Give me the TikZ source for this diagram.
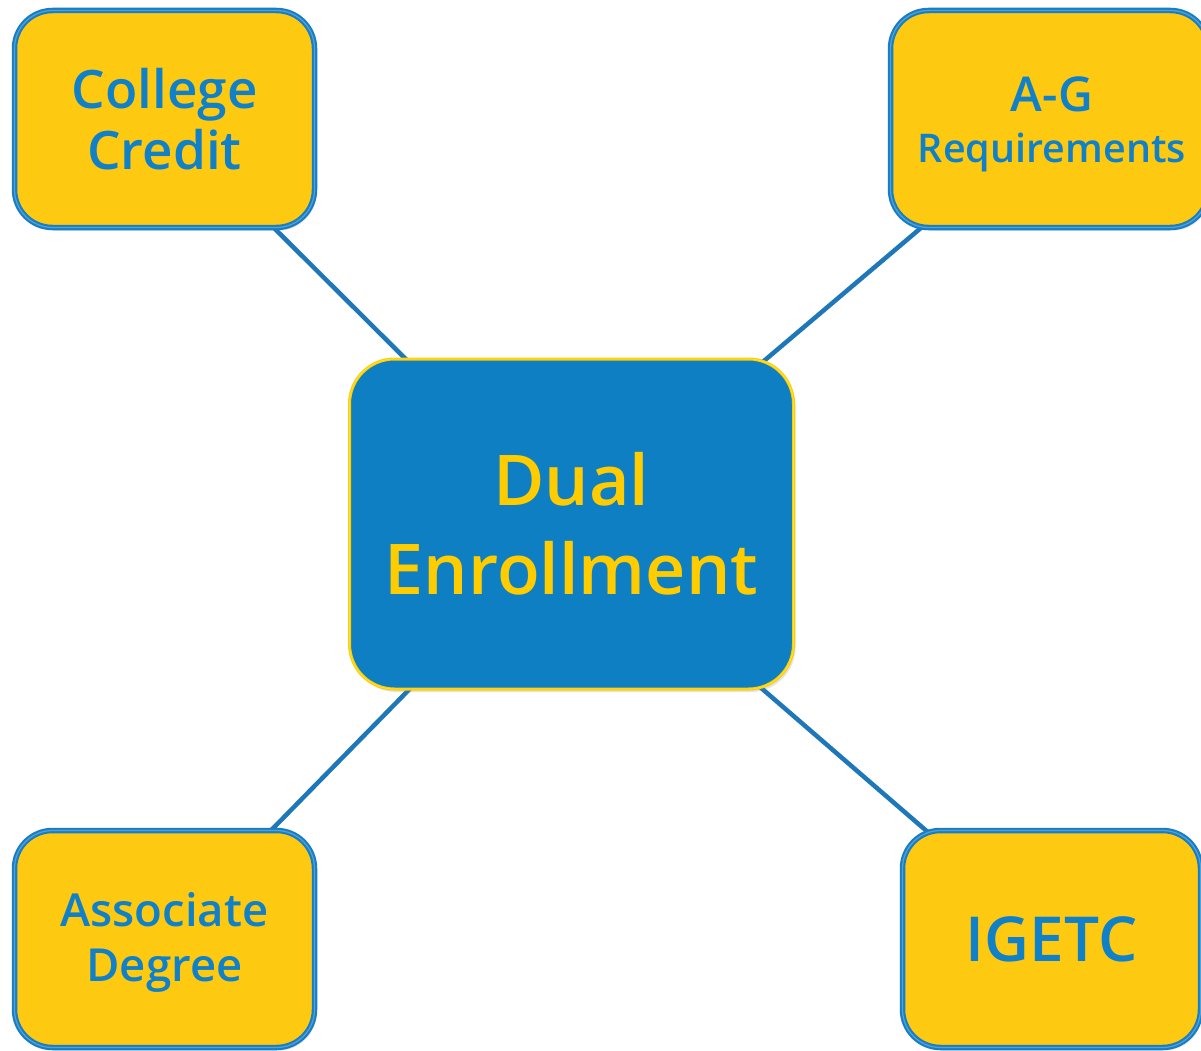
\documentclass[tikz,border=0pt]{standalone}
\usepackage{fontspec}
\IfFontExistsTF{Open Sans SemiBold}
  {\setmainfont{Open Sans}[BoldFont={Open Sans SemiBold}]}
  {\IfFontExistsTF{Open Sans Semibold}
    {\setmainfont{Open Sans}[BoldFont={Open Sans Semibold}]}
    {\setmainfont{Open Sans}}}
\usetikzlibrary{backgrounds,shadows}
\definecolor{ybox}{HTML}{FDC911}
\definecolor{bblue}{HTML}{1A7DC4}
\definecolor{tblue}{HTML}{1080C8}
\definecolor{cfill}{HTML}{0F7FC4}
\definecolor{ytext}{HTML}{FFCC00}
\definecolor{ledge}{HTML}{1E77B8}
\definecolor{gloss}{HTML}{8FD3F5}
\tikzset{
  leaf/.style={draw=bblue, line width=5.5pt, fill=ybox, rounded corners=38pt,
    text=tblue, align=center, inner sep=0pt,
    drop shadow={opacity=0.22, shadow xshift=2pt, shadow yshift=-3pt},
    postaction={draw=gloss, line width=1.2pt, draw opacity=0.45}},
  leaftext/.style={text=tblue, align=center, inner sep=0pt, font=\bfseries},
  hub/.style={draw=ytext, line width=3pt, fill=cfill, rounded corners=45pt,
    text=ytext, align=center, inner sep=0pt,
    drop shadow={opacity=0.22, shadow xshift=2pt, shadow yshift=-3pt},
    postaction={draw=yellow!60!white, line width=0.8pt, draw opacity=0.5}},
  link/.style={draw=ledge, line width=4.5pt},
}
\begin{document}
\begin{tikzpicture}[x=1pt,y=-1pt]
\useasboundingbox (0,0) rectangle (1201,1051);
\node[hub, minimum width=444pt, minimum height=330pt, font=\bfseries\fontsize{70}{89}\selectfont] (de) at (571.5,524) {Dual\\Enrollment};
\node[leaf, minimum width=300pt, minimum height=217pt, font=\bfseries\fontsize{53}{61}\selectfont] (cc) at (164.5,119) {College\\Credit};
\node[leaf, minimum width=318pt, minimum height=217pt] (ag) at (1049.5,119) {};
\node[leaftext, anchor=base, font=\bfseries\fontsize{48}{51}\selectfont] (agt1) at (1052,112) {A-G};
\node[leaftext, anchor=base, font=\bfseries\fontsize{39.5}{51}\selectfont] (agt2) at (1052,163) {Requirements};
\node[leaf, minimum width=300pt, minimum height=217pt] (ad) at (164.5,939) {};
\node[leaftext, yshift=-3pt, font=\bfseries\fontsize{45.5}{55}\selectfont] (adt) at (ad.center) {Associate\\Degree};
\node[leaf, minimum width=298pt, minimum height=217pt, font=\bfseries\fontsize{62}{70}\selectfont] (ig) at (1051.5,939) {IGETC};
\begin{scope}[on background layer]
\fill[white] (0,0) rectangle (1201,1051);
\draw[link] (cc.center) -- (de.center);
\draw[link] (ag.center) -- (de.center);
\draw[link] (ad.center) -- (de.center);
\draw[link] (ig.center) -- (de.center);
\end{scope}
\end{tikzpicture}
\end{document}
